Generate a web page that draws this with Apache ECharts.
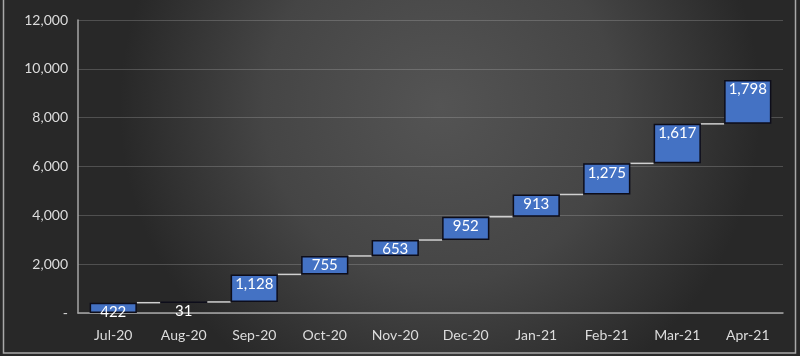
<!DOCTYPE html>
<html><head><meta charset="utf-8">
<script src="https://cdn.jsdelivr.net/npm/echarts@6/dist/echarts.min.js"></script>
<style>html,body{margin:0;padding:0;background:#333;}#c{width:800px;height:356px;}</style>
</head><body><div id="c"></div>
<script>
var categories = ['Jul-20','Aug-20','Sep-20','Oct-20','Nov-20','Dec-20','Jan-21','Feb-21','Mar-21','Apr-21'];
var values = [422, 31, 1128, 755, 653, 952, 913, 1275, 1617, 1798];
var yTicks = [0, 2000, 4000, 6000, 8000, 10000, 12000];

var bases = [], tops = [], acc = 0;
values.forEach(function(v){ bases.push(acc); acc += v; tops.push(acc); });
var connectors = tops.slice(0, -1).map(function(t, i){ return [i, t]; });

var FONT = 'Lato, "Open Sans", sans-serif';
var BW = 0.67;
var chart = echarts.init(document.getElementById('c'), null, {renderer:'canvas'});
chart.setOption({
  animation: false,
  backgroundColor: {
    type: 'radial', x: 0.55, y: 0.3, r: 0.9,
    colorStops: [{offset:0, color:'#545454'},{offset:0.55, color:'#454545'},{offset:1, color:'#282828'}]
  },
  graphic: [{
    type: 'rect', shape: {x: 3.5, y: -2, width: 792, height: 355},
    style: {fill: 'none', stroke: '#a8a8a8', lineWidth: 1.5}, silent: true, z: 100
  }],
  grid: {left: 78, right: 17, top: 20, bottom: 43},
  xAxis: {
    type: 'category', data: categories,
    axisLine: {show: true, lineStyle: {color: '#a6a6a6', width: 1.5}},
    axisTick: {show: false},
    axisLabel: {color: '#dcdcdc', fontSize: 14, fontFamily: FONT, margin: 15}
  },
  yAxis: {
    type: 'value', min: yTicks[0], max: yTicks[yTicks.length-1], interval: 2000,
    axisLine: {show: true, lineStyle: {color: '#a6a6a6', width: 1.5}},
    axisTick: {show: false},
    splitLine: {lineStyle: {color: 'rgba(200,200,200,0.25)', width: 1}},
    axisLabel: {color: '#dcdcdc', fontSize: 14, fontFamily: FONT, margin: 10,
      formatter: function(v){ return v === 0 ? '-' : v.toLocaleString('en-US'); }}
  },
  series: [
    {
      type: 'bar', stack: 'wf', data: bases, barWidth: (BW*100)+'%',
      itemStyle: {color: 'transparent'}, silent: true
    },
    {
      type: 'bar', stack: 'wf', data: values, barWidth: (BW*100)+'%',
      itemStyle: {color: '#4472C4', borderColor: '#0d0d1a', borderWidth: 1.5},
      label: {
        show: true, position: 'insideTop', distance: 2, color: '#ffffff',
        fontSize: 15, fontFamily: FONT,
        formatter: function(p){ return p.value.toLocaleString('en-US'); }
      }
    },
    {
      type: 'custom', data: connectors, z: 1,
      renderItem: function(params, api){
        var i = api.value(0), t = api.value(1);
        var half = api.size([1, 0])[0] * BW / 2;
        var p1 = api.coord([i, t]), p2 = api.coord([i + 1, t]);
        return {
          type: 'line',
          shape: {x1: p1[0] + half, y1: p1[1], x2: p2[0] - half, y2: p2[1]},
          style: {stroke: '#d0d0d0', lineWidth: 1.5}
        };
      }
    }
  ]
});
</script></body></html>
